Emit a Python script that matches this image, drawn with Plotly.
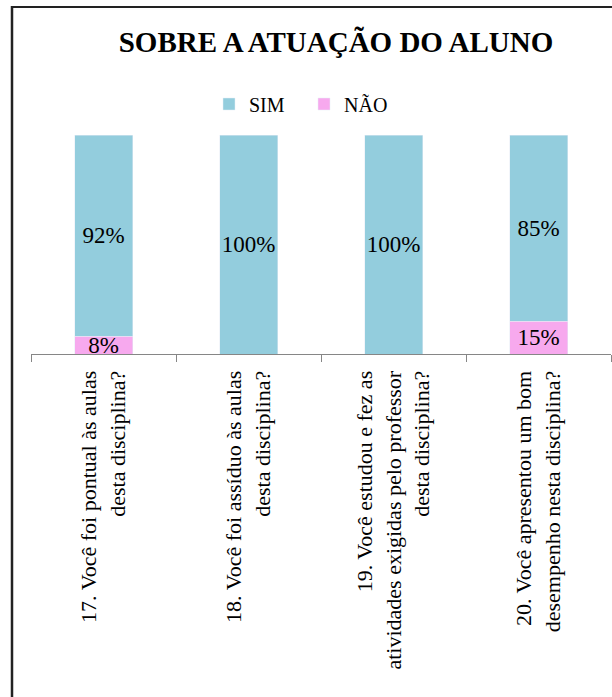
import plotly.graph_objects as go

categories = [
    "17. Você foi pontual às aulas<br>desta disciplina?",
    "18. Você foi assíduo às aulas<br>desta disciplina?",
    "19. Você estudou e fez as<br>atividades exigidas pelo professor<br>desta disciplina?",
    "20. Você apresentou um bom<br>desempenho nesta disciplina?",
]
nao_values = [0.08, 0.0, 0.0, 0.15]
sim_values = [0.92, 1.0, 1.0, 0.85]
nao_labels = ["8%", "", "", "15%"]
sim_labels = ["92%", "100%", "100%", "85%"]

SIM_COLOR = "#93CDDD"
NAO_COLOR = "#F7A9EE"
FONT = "Liberation Serif, Times New Roman, serif"

W, H = 612, 697
# plot area in page pixels
PX0, PX1 = 31, 611
PY_TOP, PY_BOT = 135, 354
L = PX0
R = W - PX1
T = PY_TOP
B = H - PY_BOT
pw = PX1 - PX0
ph = PY_BOT - PY_TOP


def px_x(p):
    return (p - PX0) / pw


def px_y(p):
    return (PY_BOT - p) / ph


fig = go.Figure()
fig.add_trace(go.Bar(
    name="NÃO", x=categories, y=nao_values, marker_color=NAO_COLOR,
    text=nao_labels, textposition="inside", insidetextanchor="middle",
    textangle=0, constraintext="none",
    textfont=dict(family=FONT, size=23, color="black"),
))
fig.add_trace(go.Bar(
    name="SIM", x=categories, y=sim_values, marker_color=SIM_COLOR,
    text=sim_labels, textposition="inside", insidetextanchor="middle",
    textangle=0, constraintext="none",
    textfont=dict(family=FONT, size=23, color="black"),
))

fig.update_layout(
    width=W, height=H,
    margin=dict(l=L, r=R, t=T, b=B, autoexpand=False),
    barmode="stack", bargap=0.6,
    paper_bgcolor="white", plot_bgcolor="white",
    font=dict(family=FONT, color="black", size=20),
    title=dict(
        text="<b>SOBRE A ATUAÇÃO DO ALUNO</b>",
        font=dict(family=FONT, size=29, color="black"),
        xref="container", x=336 / W, xanchor="center",
        yref="container", y=1 - 42 / H, yanchor="middle",
    ),
    legend=dict(
        orientation="h", traceorder="reversed",
        x=px_x(209), xanchor="left",
        y=px_y(104), yanchor="middle",
        font=dict(family=FONT, size=20, color="black"),
        itemwidth=30, entrywidth=50,
        bgcolor="rgba(0,0,0,0)",
    ),
    xaxis=dict(
        type="category", range=[-0.5, 3.5],
        showline=True, linecolor="#868686", linewidth=1,
        ticks="outside", tickson="boundaries", ticklen=7,
        tickcolor="#868686", tickwidth=1,
        tickangle=-90, automargin=False,
        ticklabelstandoff=7,
        tickfont=dict(family=FONT, size=22, color="black"),
        showgrid=False, zeroline=False, fixedrange=True,
    ),
    yaxis=dict(
        range=[0, 1], visible=False, showgrid=False, zeroline=False,
        fixedrange=True,
    ),
    shapes=[
        dict(type="line", xref="paper", yref="paper",
             x0=px_x(12), x1=px_x(12), y0=px_y(6), y1=px_y(720),
             line=dict(color="#222222", width=2.5)),
        dict(type="line", xref="paper", yref="paper",
             x0=px_x(11), x1=px_x(630), y0=px_y(7), y1=px_y(7),
             line=dict(color="#222222", width=2)),
    ],
)

fig.write_html(
    "out.html",
    config={"displayModeBar": False, "staticPlot": True},
    post_script="document.body.style.margin='0';document.body.style.overflow='hidden';",
)
